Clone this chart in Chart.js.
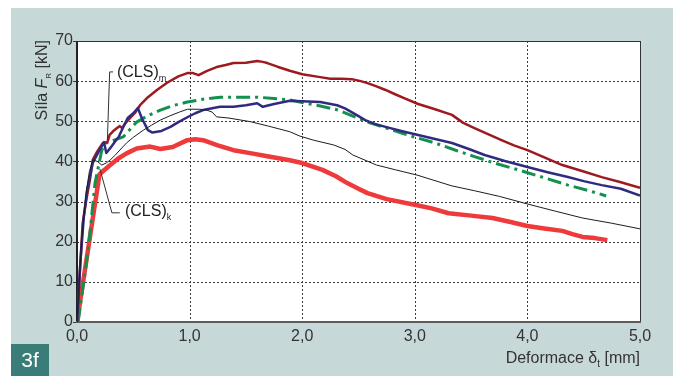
<!DOCTYPE html>
<html>
<head>
<meta charset="utf-8">
<script src="https://cdn.jsdelivr.net/npm/chart.js@4/dist/chart.umd.min.js"></script>
<style>
  html, body { margin: 0; padding: 0; background: #fff; }
  #wrap { width: 675px; height: 376px; }
</style>
</head>
<body>
<div id="wrap"><canvas id="chart" width="675" height="376"></canvas></div>
<script>
const FONT = '"Liberation Sans", Arial, Helvetica, sans-serif';

// axis ticks
const xTicks = [0, 1, 2, 3, 4, 5];
const yTicks = [0, 10, 20, 30, 40, 50, 60, 70];

// measured curves, deformation [mm] vs force [kN]
const maroonX = [0, 0.05, 0.08, 0.115, 0.14, 0.18, 0.23, 0.27, 0.29, 0.32, 0.35, 0.38, 0.40, 0.43, 0.47, 0.52, 0.56, 0.63, 0.71, 0.8, 0.9, 0.98, 1.03, 1.08, 1.15, 1.24, 1.32, 1.39, 1.5, 1.6, 1.65, 1.69, 1.78, 1.89, 2.0, 2.16, 2.25, 2.35, 2.44, 2.52, 2.58, 2.66, 2.74, 2.82, 2.91, 3.03, 3.18, 3.33, 3.43, 3.53, 3.65, 3.77, 3.88, 4.0, 4.15, 4.31, 4.5, 4.66, 4.83, 5.0];
const maroonY = [0, 24.5, 30, 35.4, 40.4, 42.5, 44.6, 44.8, 46.6, 47.5, 48.2, 48.8, 48.3, 49.5, 50.8, 52.3, 54, 56, 57.8, 59.6, 61.2, 62, 62, 61.5, 62.5, 63.5, 64, 64.5, 64.6, 65, 64.8, 64.5, 63.6, 62.6, 61.7, 61, 60.6, 60.6, 60.5, 60.0, 59.5, 58.7, 57.8, 56.8, 55.7, 54.3, 53, 51.6, 49.6, 48.3, 46.8, 45.3, 44, 42.8, 41, 39.1, 37.5, 36.1, 34.8, 33.4];

const navyX = [0, 0.03, 0.06, 0.09, 0.14, 0.2, 0.24, 0.26, 0.3, 0.34, 0.37, 0.41, 0.45, 0.5, 0.54, 0.58, 0.63, 0.67, 0.75, 0.83, 0.9, 0.98, 1.05, 1.12, 1.27, 1.39, 1.5, 1.6, 1.65, 1.75, 1.89, 2.0, 2.16, 2.31, 2.38, 2.47, 2.56, 2.65, 2.74, 2.88, 3.03, 3.18, 3.33, 3.48, 3.62, 3.8, 4.0, 4.18, 4.36, 4.5, 4.66, 4.83, 5.0];
const navyY = [0, 15, 26, 32.9, 39.6, 42.8, 44.8, 42.1, 43.5, 45, 46.1, 48.5, 50.8, 52, 53.3, 50.5, 47.8, 47.2, 47.6, 48.6, 49.8, 51, 52, 52.8, 53.6, 53.6, 54, 54.5, 53.6, 54.3, 55.1, 55, 54.8, 54, 53.2, 51.8, 50.3, 49.3, 48.6, 47.6, 46.6, 45.6, 44.6, 43.1, 41.6, 40.1, 38.6, 37.3, 36.1, 35.1, 34.1, 33.2, 31.5];

const greenX = [0.01, 0.1, 0.16, 0.22, 0.26, 0.33, 0.41, 0.53, 0.63, 0.74, 0.85, 0.98, 1.12, 1.27, 1.39, 1.6, 1.75, 1.89, 2.0, 2.13, 2.32, 2.45, 2.58, 2.74, 2.89, 3.03, 3.18, 3.35, 3.53, 3.72, 3.92, 4.14, 4.36, 4.55, 4.7];
const greenY = [0, 18, 34.6, 42.8, 44.6, 45.3, 46.1, 49.8, 51.4, 52.8, 53.9, 54.8, 55.5, 56, 56, 56, 55.7, 55.3, 54.7, 54, 52.8, 51.3, 49.8, 48.4, 47, 45.8, 44.6, 42.9, 41.2, 39.5, 37.9, 36, 34.1, 32.7, 31.4];

const blackX = [0, 0.04, 0.08, 0.11, 0.14, 0.18, 0.22, 0.26, 0.3, 0.34, 0.44, 0.5, 0.59, 0.66, 0.74, 0.82, 0.91, 0.98, 1.09, 1.15, 1.2, 1.24, 1.35, 1.54, 1.7, 1.89, 1.98, 2.1, 2.28, 2.38, 2.45, 2.66, 2.83, 3.02, 3.33, 3.53, 3.75, 4.0, 4.25, 4.49, 4.75, 5.0];
const blackY = [0, 20, 32, 37.5, 40.4, 40, 39.1, 39.6, 40.5, 41.6, 44.6, 46, 47.8, 49, 50.3, 51.3, 52.3, 53, 53, 52.8, 52.3, 51.1, 50.8, 49.9, 48.8, 47.4, 46.3, 45.3, 44.1, 43, 41.6, 39.1, 37.9, 36.6, 33.9, 32.7, 31.3, 29.4, 27.6, 25.9, 24.6, 23.2];

const redX = [0, 0.2, 0.24, 0.29, 0.36, 0.44, 0.53, 0.65, 0.74, 0.85, 0.98, 1.05, 1.12, 1.25, 1.39, 1.55, 1.69, 1.89, 2.0, 2.18, 2.3, 2.4, 2.5, 2.58, 2.75, 3.02, 3.15, 3.3, 3.5, 3.69, 3.85, 4.0, 4.15, 4.31, 4.4, 4.49, 4.6, 4.71];
const redY = [0, 36.8, 37.8, 39, 40.6, 42, 43.2, 43.7, 43.1, 43.6, 45.3, 45.5, 45.3, 44, 42.8, 42, 41.3, 40.3, 39.6, 37.9, 36.3, 34.6, 33.2, 32.1, 30.6, 29.1, 28.3, 27.1, 26.5, 25.9, 24.9, 23.9, 23.3, 22.7, 21.9, 21.2, 20.9, 20.4];

function toPoints(xs, ys) {
    return xs.map((x, i) => ({ x: x, y: ys[i] }));
}

function series(xs, ys, color, width, dash) {
    return {
        data: toPoints(xs, ys),
        borderColor: color,
        borderWidth: width,
        borderDash: dash || [],
        pointRadius: 0,
        tension: 0,
        borderJoinStyle: 'round',
        borderCapStyle: 'butt',
        fill: false
    };
}

// draw a run of text pieces [text, font, dy] left to right, returns end x
function drawPieces(ctx, pieces, x, y) {
    pieces.forEach(p => {
        ctx.font = p[1];
        ctx.fillText(p[0], x, y + (p[2] || 0));
        x += ctx.measureText(p[0]).width;
    });
    return x;
}

function piecesWidth(ctx, pieces) {
    let w = 0;
    pieces.forEach(p => { ctx.font = p[1]; w += ctx.measureText(p[0]).width; });
    return w;
}

const decor = {
    id: 'decor',
    beforeDraw(chart) {
        const ctx = chart.ctx;
        const a = chart.chartArea;
        ctx.save();
        ctx.fillStyle = '#ffffff';
        ctx.fillRect(0, 0, chart.width, chart.height);
        ctx.fillStyle = '#c6d9d8';
        ctx.fillRect(11, 8, 662, 368);
        ctx.fillStyle = '#ffffff';
        ctx.fillRect(a.left, a.top, a.right - a.left, a.bottom - a.top);
        ctx.restore();
    },
    beforeDatasetsDraw(chart) {
        const ctx = chart.ctx;
        const a = chart.chartArea;
        const xs = chart.scales.x, ys = chart.scales.y;
        const left = Math.round(a.left), right = Math.round(a.right);
        const top = Math.round(a.top), bottom = Math.round(a.bottom);
        ctx.save();

        // dotted grid, 2px dots every 4px
        ctx.fillStyle = '#3a3a3a';
        xs.ticks.forEach(t => {
            const x = Math.round(xs.getPixelForValue(t.value));
            for (let y = top; y < bottom; y += 4) ctx.fillRect(x, y, 1, 2);
        });
        ys.ticks.forEach(t => {
            const y = Math.round(ys.getPixelForValue(t.value));
            for (let x = left; x < right; x += 4) ctx.fillRect(x, y, 2, 1);
            // short tick outside the left axis
            ctx.fillRect(left - 4, y, 4, 1);
        });

        // plot frame: thin top/right, heavier left and bottom axes
        ctx.fillStyle = '#333';
        ctx.fillRect(left, top, right - left + 1, 1);
        ctx.fillRect(right, top, 1, bottom - top);
        ctx.fillStyle = '#222';
        ctx.fillRect(left - 1, top, 2, bottom - top);
        ctx.fillStyle = '#5c5c5c';
        ctx.fillRect(left - 1, bottom - 1, right - left + 2, 2);
        ctx.restore();
    },
    afterDraw(chart) {
        const ctx = chart.ctx;
        const xs = chart.scales.x, ys = chart.scales.y;
        const px = v => xs.getPixelForValue(v);
        const py = v => ys.getPixelForValue(v);
        ctx.save();

        // leader lines for the (CLS) labels
        ctx.strokeStyle = '#333';
        ctx.lineWidth = 1;
        ctx.beginPath();
        ctx.moveTo(px(0.32), py(62.3));
        ctx.lineTo(px(0.29), py(62.3));
        ctx.lineTo(px(0.27), py(45.3));
        ctx.moveTo(px(0.204), py(38.1));
        ctx.lineTo(px(0.31), py(27.2));
        ctx.lineTo(px(0.38), py(27.2));
        ctx.stroke();

        ctx.fillStyle = '#222';
        ctx.textBaseline = 'alphabetic';
        ctx.textAlign = 'left';
        const big = '16px ' + FONT, small = '9px ' + FONT;
        drawPieces(ctx, [['(CLS)', big], ['m', small, 4]], px(0.355), py(61.1));
        drawPieces(ctx, [['(CLS)', big], ['k', small, 4]], px(0.426), py(26.4));

        // x axis title, right aligned to the plot
        ctx.fillStyle = '#333';
        const xt = [['Deformace δ', big], ['t', '10px ' + FONT, 4], [' [mm]', big]];
        drawPieces(ctx, xt, chart.chartArea.right - piecesWidth(ctx, xt), 363);

        // y axis title, rotated, ending at the top of the plot
        const yt = [['Síla ', big], ['F', 'italic 16px ' + FONT], ['R', '8px ' + FONT, 4], [' [kN]', big]];
        const w = piecesWidth(ctx, yt);
        ctx.save();
        ctx.translate(47, chart.chartArea.top - 1);
        ctx.rotate(-Math.PI / 2);
        drawPieces(ctx, yt, -w, 0);
        ctx.restore();

        // figure tag
        ctx.fillStyle = '#3a7c78';
        ctx.fillRect(11, 344, 38, 32);
        ctx.fillStyle = '#ffffff';
        ctx.font = '21px ' + FONT;
        ctx.textAlign = 'center';
        ctx.textBaseline = 'middle';
        ctx.fillText('3f', 30, 361);
        ctx.restore();
    }
};

const ctx = document.getElementById('chart').getContext('2d');
new Chart(ctx, {
    type: 'line',
    data: {
        datasets: [
            series(blackX, blackY, '#1e1e1e', 1),
            series(navyX, navyY, '#2f2c80', 2.5),
            series(maroonX, maroonY, '#9c1a20', 2.5),
            series(greenX, greenY, '#13904e', 3, [14, 5, 3, 5]),
            series(redX, redY, '#ef3a3c', 4.5)
        ]
    },
    options: {
        responsive: false,
        animation: false,
        events: [],
        layout: { padding: { left: 0, right: 35, top: 41, bottom: 0 } },
        plugins: { legend: { display: false }, tooltip: { enabled: false } },
        scales: {
            x: {
                type: 'linear',
                min: 0,
                max: 5,
                afterFit: s => { s.height = 54; },
                afterBuildTicks: s => { s.ticks = xTicks.map(v => ({ value: v })); },
                ticks: {
                    padding: 5,
                    color: '#333',
                    font: { family: FONT, size: 16 },
                    callback: v => v.toFixed(1).replace('.', ',')
                },
                grid: { display: false, drawTicks: false },
                border: { display: false }
            },
            y: {
                type: 'linear',
                min: 0,
                max: 70,
                afterFit: s => { s.width = 77; },
                afterBuildTicks: s => { s.ticks = yTicks.map(v => ({ value: v })); },
                ticks: {
                    padding: 4,
                    color: '#333',
                    font: { family: FONT, size: 16 },
                    callback: v => String(v)
                },
                grid: { display: false, drawTicks: false },
                border: { display: false }
            }
        }
    },
    plugins: [decor]
});
</script>
</body>
</html>
